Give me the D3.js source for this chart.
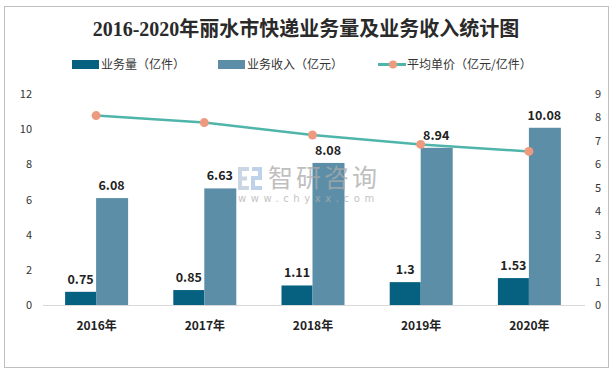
<!DOCTYPE html>
<html><head><meta charset="utf-8">
<script src="https://cdn.jsdelivr.net/npm/d3@7"></script>
<style>body{margin:0;background:#fff}svg{display:block}</style>
</head><body>
<script>
const categories = ["2016年","2017年","2018年","2019年","2020年"];
const volume = [0.75, 0.85, 1.11, 1.3, 1.53];
const revenue = [6.08, 6.63, 8.08, 8.94, 10.08];
const unitPrice = [8.08, 7.78, 7.25, 6.85, 6.55];
const leftTicks = [0,2,4,6,8,10,12];
const rightTicks = [0,1,2,3,4,5,6,7,8,9];
const seriesNames = ["业务量（亿件）","业务收入（亿元）","平均单价（亿元/亿件）"];
const title = "2016-2020年丽水市快递业务量及业务收入统计图";

const W = 614, H = 372;
const C_DARK = "#05617f", C_LIGHT = "#5c8ea7", C_LINE = "#4fb5aa", C_DOT = "#ee9a7f";
const FONT = "'Noto Sans CJK SC', 'Liberation Sans', sans-serif";

const svg = d3.select("body").append("svg").attr("width", W).attr("height", H);
svg.append("rect").attr("x",4.5).attr("y",6.5).attr("width",604).attr("height",361)
  .attr("fill","#fff").attr("stroke","#bfbfbf");

svg.append("text").attr("x",306).attr("y",36).attr("text-anchor","middle")
  .attr("font-family","'Liberation Serif','Noto Sans CJK SC',serif").attr("font-weight","bold")
  .attr("font-size",20).attr("fill","#2a2a2a").text(title);

// legend
const lg = svg.append("g").attr("font-family",FONT).attr("font-size",12).attr("fill","#333");
lg.append("rect").attr("x",72).attr("y",60).attr("width",27).attr("height",9).attr("fill",C_DARK);
lg.append("text").attr("x",101).attr("y",69).text(seriesNames[0]);
lg.append("rect").attr("x",218).attr("y",60).attr("width",27).attr("height",9).attr("fill",C_LIGHT);
lg.append("text").attr("x",247).attr("y",69).text(seriesNames[1]);
lg.append("line").attr("x1",378).attr("x2",406).attr("y1",64.5).attr("y2",64.5).attr("stroke",C_LINE).attr("stroke-width",3);
lg.append("circle").attr("cx",393).attr("cy",64.5).attr("r",4).attr("fill",C_DOT);
lg.append("text").attr("x",407).attr("y",69).text(seriesNames[2]);

// scales
const x = d3.scalePoint().domain(categories).range([42, 583]).padding(0.5);
const yL = d3.scaleLinear().domain([0,12]).range([305, 94]);
const yR = d3.scaleLinear().domain([0,9]).range([305, 94]);
const bw = 31;

// axes
const axL = svg.append("g").attr("transform","translate(32,0)")
  .call(d3.axisLeft(yL).tickValues(leftTicks).tickSize(0).tickPadding(0));
const axR = svg.append("g").attr("transform","translate(595,0)")
  .call(d3.axisRight(yR).tickValues(rightTicks).tickSize(0).tickPadding(0));
[axL, axR].forEach(a => {
  a.select(".domain").remove();
  a.selectAll("text").attr("font-family",FONT).attr("font-size",11).attr("fill","#333");
});
const axB = svg.append("g").attr("transform","translate(0,305)")
  .call(d3.axisBottom(x).tickSize(0).tickPadding(16));
axB.select(".domain").remove();
axB.selectAll("text").attr("font-family",FONT).attr("font-size",12).attr("font-weight","bold").attr("fill","#222");

// bars
svg.append("g").selectAll("rect").data(volume).join("rect")
  .attr("x",(d,i)=>x(categories[i])-bw).attr("width",bw)
  .attr("y",d=>yL(d)).attr("height",d=>yL(0)-yL(d)).attr("fill",C_DARK);
svg.append("g").selectAll("rect").data(revenue).join("rect")
  .attr("x",(d,i)=>x(categories[i])).attr("width",bw+1)
  .attr("y",d=>yL(d)).attr("height",d=>yL(0)-yL(d)).attr("fill",C_LIGHT);

svg.append("line").attr("x1",43).attr("x2",585).attr("y1",305.5).attr("y2",305.5).attr("stroke","#d9d9d9");

// watermark (on top of bars, translucent)
const wm = svg.append("g").attr("opacity",0.75);
wm.append("path").attr("d","M249,169 H240 V188 H249 M240,178.5 H247")
  .attr("fill","none").attr("stroke","#b9c9dc").attr("stroke-width",4);
wm.append("path").attr("d","M252,169 H260 V178 H253 V188 H262")
  .attr("fill","none").attr("stroke","#a9c4e2").attr("stroke-width",4);
wm.append("text").attr("x",268).attr("y",187).attr("font-family",FONT).attr("font-size",25)
  .attr("fill","#aaaaaa").attr("letter-spacing",3).text("智研咨询");
wm.append("text").attr("x",238).attr("y",202).attr("font-family","'DejaVu Sans',sans-serif").attr("font-size",10)
  .attr("fill","#b0b0b0").attr("letter-spacing",4.6).text("www.chyxx.com");

// labels
const lab = svg.append("g").attr("font-family",FONT).attr("font-size",12.5).attr("font-weight","bold")
  .attr("fill","#222").attr("text-anchor","middle");
volume.forEach((v,i)=>lab.append("text").attr("x",x(categories[i])-bw/2).attr("y",yL(v)-8).text(v));
revenue.forEach((v,i)=>lab.append("text").attr("x",x(categories[i])+bw/2).attr("y",yL(v)-8).text(v.toFixed(2)));

// line
const line = d3.line().x((d,i)=>x(categories[i])).y(d=>yR(d));
svg.append("path").datum(unitPrice).attr("d",line).attr("fill","none").attr("stroke",C_LINE).attr("stroke-width",2.5);
svg.append("g").selectAll("circle").data(unitPrice).join("circle")
  .attr("cx",(d,i)=>x(categories[i])).attr("cy",d=>yR(d)).attr("r",4.5).attr("fill",C_DOT);
</script>
</body></html>
